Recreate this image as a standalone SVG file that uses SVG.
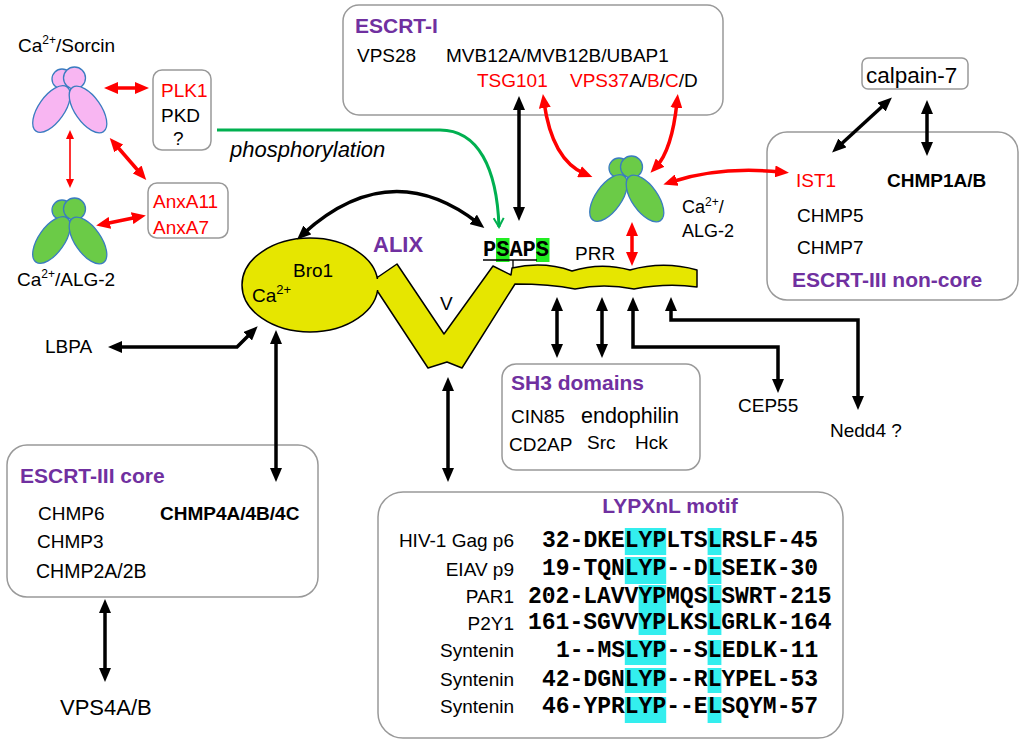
<svg xmlns="http://www.w3.org/2000/svg" width="1024" height="745" viewBox="0 0 1024 745">
<style>
text{font-family:"Liberation Sans",Arial,sans-serif;font-size:19px;fill:#000}
.red{fill:#ff0000}
.pur{fill:#7030a0;font-weight:bold;font-size:21px}
.b{font-weight:bold}
.mono{font-family:"Liberation Mono","Courier New",monospace;font-weight:bold;font-size:23px}
.box{fill:#fff;stroke:#999;stroke-width:1.5}
.ka{fill:none;stroke:#000;stroke-width:3.5;marker-start:url(#ah);marker-end:url(#ah)}
.ra{fill:none;stroke:#ff0000;stroke-width:3.5;marker-start:url(#ahr);marker-end:url(#ahr)}
.cy{fill:#33eeee}
.gh{fill:#22ee22}
</style>
<defs>
<marker id="ah" viewBox="0 0 14 12" refX="6" refY="6" markerWidth="14" markerHeight="12" markerUnits="userSpaceOnUse" orient="auto-start-reverse"><path d="M0,0 L14,6 L0,12 Z" fill="#000"/></marker>
<marker id="ahr" viewBox="0 0 14 12" refX="6" refY="6" markerWidth="14" markerHeight="12" markerUnits="userSpaceOnUse" orient="auto-start-reverse"><path d="M0,0 L14,6 L0,12 Z" fill="#ff0000"/></marker>
<marker id="ahrs" viewBox="0 0 9 8" refX="4" refY="4" markerWidth="9" markerHeight="8" markerUnits="userSpaceOnUse" orient="auto-start-reverse"><path d="M0,0 L9,4 L0,8 Z" fill="#ff0000"/></marker>
<marker id="ahg" viewBox="0 0 12 12" refX="10" refY="6" markerWidth="12" markerHeight="12" markerUnits="userSpaceOnUse" orient="auto"><path d="M1,1 L10,6 L1,11" fill="none" stroke="#00b050" stroke-width="2"/></marker>
<g id="dimer" stroke="#3a7cc0" stroke-width="1.3">
<circle cx="-8" cy="-30" r="10"/>
<circle cx="4.5" cy="-31" r="11"/>
<ellipse cx="-18.5" cy="0" rx="13" ry="27" transform="rotate(35 -18.5 0)"/>
<ellipse cx="18" cy="0.5" rx="13" ry="27" transform="rotate(-35 18 0.5)"/>
</g>
</defs>
<rect width="1024" height="745" fill="#fff"/>

<g id="sorcin">
<use href="#dimer" transform="translate(70,109)" fill="#f8b6f2"/>
<text x="18" y="52">Ca<tspan dy="-8" style="font-size:12px">2+</tspan><tspan dy="8">/Sorcin</tspan></text>
</g>
<g id="alg2-left">
<use href="#dimer" transform="translate(70,240)" fill="#6bcb47"/>
<text x="17" y="286">Ca<tspan dy="-8" style="font-size:12px">2+</tspan><tspan dy="8">/ALG-2</tspan></text>
</g>
<g id="plk1">
<rect class="box" x="153" y="70" width="58" height="80" rx="9"/>
<text x="161" y="97" class="red">PLK1</text>
<text x="161" y="122">PKD</text>
<text x="173" y="145">?</text>
</g>
<g id="anxa">
<rect class="box" x="148" y="183" width="80" height="55" rx="9"/>
<text x="153" y="208" class="red">AnxA11</text>
<text x="153" y="234" class="red">AnxA7</text>
</g>
<text id="phosphorylation" x="230" y="157" style="font-size:22px;font-style:italic">phosphorylation</text>

<g id="escrt-i">
<rect class="box" x="343" y="5" width="380" height="110" rx="16"/>
<text x="355" y="33" class="pur">ESCRT-I</text>
<text x="357" y="62">VPS28</text>
<text x="446" y="62">MVB12A/MVB12B/UBAP1</text>
<text x="477" y="87" class="red">TSG101</text>
<text x="570" y="87"><tspan class="red">VPS37</tspan>A/<tspan class="red">B</tspan>/<tspan class="red">C</tspan>/D</text>
</g>

<g id="calpain-7">
<rect class="box" x="862" y="58" width="106" height="31" rx="6"/>
<text x="866" y="83" style="font-size:22.5px">calpain-7</text>
</g>

<g id="escrt-iii-noncore">
<rect class="box" x="767" y="132" width="251" height="168" rx="20"/>
<text x="796" y="187" class="red">IST1</text>
<text x="887" y="187" class="b">CHMP1A/B</text>
<text x="797" y="222">CHMP5</text>
<text x="797" y="254">CHMP7</text>
<text x="792" y="287" class="pur">ESCRT-III non-core</text>
</g>

<g id="alg2-right">
<use href="#dimer" transform="translate(627,198)" fill="#6bcb47"/>
<text x="682" y="213" style="font-size:18px">Ca<tspan dy="-7" style="font-size:12px">2+</tspan><tspan dy="7">/</tspan></text>
<text x="682" y="237" style="font-size:18px">ALG-2</text>
</g>

<g id="alix">
<path d="M360,276 L378,277 L397,264 L444,334 L493,266 L511,275 L512,268 C530,264 552,264 572,271 C588,266 608,264 630,270 C648,265 672,263 697,270 L697,287 C676,284 655,285 634,289 C614,285 594,285 575,289 C555,285 535,284 515,284 L462,368 L447,362 L428,368 L378,292 L360,292 Z" fill="#e6e600" stroke="#000" stroke-width="1.5" stroke-linejoin="round"/>
<ellipse cx="310" cy="285" rx="68" ry="47" fill="#e6e600" stroke="#000" stroke-width="1.5"/>
<rect x="372" y="279" width="10" height="11" fill="#e6e600"/>
<text x="373" y="252" class="pur" style="font-size:22px">ALIX</text>
<text x="293" y="277">Bro1</text>
<text x="252" y="302">Ca<tspan dy="-8" style="font-size:13px">2+</tspan></text>
<text x="440" y="310">V</text>
<rect class="gh" x="496" y="238" width="13.5" height="24"/>
<rect class="gh" x="536" y="238" width="13.5" height="24"/>
<text x="483" y="256" class="mono" style="font-size:22px">PSAPS</text>
<path d="M483,260 H537 M513,260 V268" stroke="#000" stroke-width="1.3" fill="none"/>
<text x="575" y="260">PRR</text>
</g>

<text id="lbpa" x="45" y="353">LBPA</text>
<text id="cep55" x="738" y="412">CEP55</text>
<text id="nedd4" x="830" y="437">Nedd4 ?</text>

<g id="sh3">
<rect class="box" x="502" y="364" width="198" height="106" rx="14"/>
<text x="511" y="390" class="pur">SH3 domains</text>
<text x="511" y="423">CIN85</text>
<text x="581" y="423" style="font-size:21.5px">endophilin</text>
<text x="509" y="451">CD2AP</text>
<text x="587" y="449">Src</text>
<text x="635" y="449">Hck</text>
</g>

<g id="escrt-iii-core">
<rect class="box" x="7" y="445" width="311" height="152" rx="20"/>
<text x="20" y="483" class="pur">ESCRT-III core</text>
<text x="38" y="520">CHMP6</text>
<text x="160" y="520" class="b">CHMP4A/4B/4C</text>
<text x="37" y="548">CHMP3</text>
<text x="36" y="578" style="font-size:19.5px">CHMP2A/2B</text>
</g>
<text id="vps4" x="60" y="715" style="font-size:22px">VPS4A/B</text>

<g id="lypxnl">
<rect class="box" x="378" y="492" width="465" height="246" rx="25"/>
<text x="670" y="513" class="pur" text-anchor="middle">LYPXnL motif</text>
<rect class="cy" x="624.8" y="528" width="41.4" height="27"/>
<rect class="cy" x="624.8" y="557" width="41.4" height="27"/>
<rect class="cy" x="638.6" y="585" width="27.6" height="26"/>
<rect class="cy" x="638.6" y="611" width="27.6" height="24"/>
<rect class="cy" x="624.8" y="640" width="41.4" height="25"/>
<rect class="cy" x="624.8" y="668" width="41.4" height="25"/>
<rect class="cy" x="624.8" y="697" width="41.4" height="26"/>
<rect class="cy" x="707.6" y="528" width="13.8" height="27"/>
<rect class="cy" x="707.6" y="557" width="13.8" height="27"/>
<rect class="cy" x="707.6" y="585" width="13.8" height="26"/>
<rect class="cy" x="707.6" y="611" width="13.8" height="24"/>
<rect class="cy" x="707.6" y="640" width="13.8" height="25"/>
<rect class="cy" x="707.6" y="668" width="13.8" height="25"/>
<rect class="cy" x="707.6" y="697" width="13.8" height="26"/>
<g text-anchor="end">
<text x="514" y="547">HIV-1 Gag p6</text>
<text x="514" y="576">EIAV p9</text>
<text x="514" y="603">PAR1</text>
<text x="514" y="630">P2Y1</text>
<text x="514" y="657">Syntenin</text>
<text x="514" y="686">Syntenin</text>
<text x="514" y="713">Syntenin</text>
</g>
<text x="542" y="547" class="mono">32-DKELYPLTSLRSLF-45</text>
<text x="542" y="575" class="mono">19-TQNLYP--DLSEIK-30</text>
<text x="528" y="603" class="mono">202-LAVVYPMQSLSWRT-215</text>
<text x="528" y="629" class="mono">161-SGVVYPLKSLGRLK-164</text>
<text x="556" y="657" class="mono">1--MSLYP--SLEDLK-11</text>
<text x="542" y="686" class="mono">42-DGNLYP--RLYPEL-53</text>
<text x="542" y="713" class="mono">46-YPRLYP--ELSQYM-57</text>
</g>

<g id="connectors">
<path d="M217,130 H440 C478,130 497,168 499,227" fill="none" stroke="#00b050" stroke-width="3" marker-end="url(#ahg)"/>
<path class="ra" d="M112,88 H141"/>
<path class="ra" d="M115,144 L141,174"/>
<path class="ra" d="M104,224 L138,217"/>
<path d="M70,135 V183" fill="none" stroke="#ff0000" stroke-width="1.6" marker-start="url(#ahrs)" marker-end="url(#ahrs)"/>
<path class="ra" d="M544,102 Q552,160 585,174"/>
<path class="ra" d="M677,102 Q672,150 656,167"/>
<path class="ra" d="M671,182 Q720,166 781,172"/>
<path class="ra" d="M632,230 V258"/>
<path class="ka" d="M519,104 V213"/>
<path class="ka" d="M303,234 Q390,155 478,223"/>
<path class="ka" d="M252,332 L237,347 L116,347"/>
<path class="ka" d="M276,338 V474"/>
<path class="ka" d="M105,607 V674"/>
<path class="ka" d="M448,385 V474"/>
<path class="ka" d="M557,305 V350"/>
<path class="ka" d="M602,305 V350"/>
<path class="ka" d="M633,305 V347 H778 V385"/>
<path class="ka" d="M671,305 V320 H858 V402"/>
<path class="ka" d="M886,103 L838,147"/>
<path class="ka" d="M927,108 V148"/>
</g>
</svg>
